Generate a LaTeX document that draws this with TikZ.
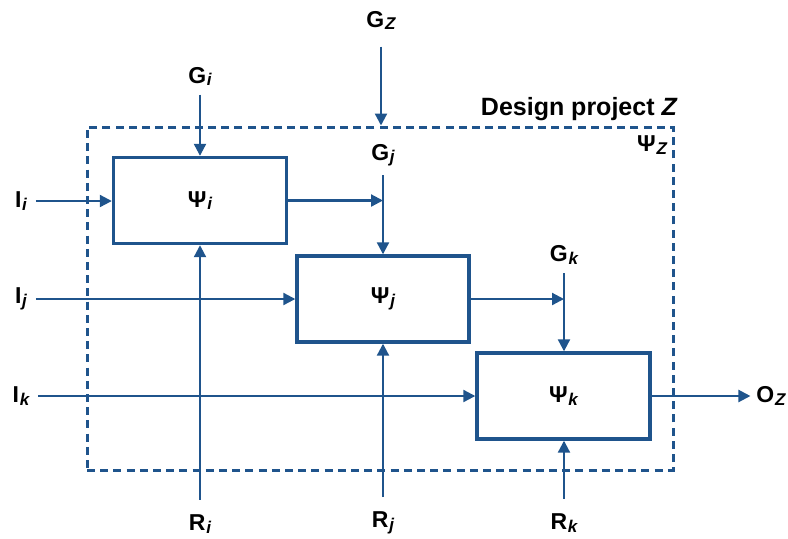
\documentclass[tikz,border=0pt]{standalone}
\usepackage{fontspec}
\setmainfont{Liberation Sans}
\usetikzlibrary{arrows.meta}
\definecolor{flowblue}{RGB}{31,84,140}
\newcommand{\lbl}[2]{#1\kern0.4pt\raisebox{-1.2pt}{\fontsize{8.5}{10}\selectfont\itshape #2}}

\begin{document}
\begin{tikzpicture}[x=0.5pt,y=-0.5pt,font=\fontsize{11.5}{13}\selectfont\bfseries]

    \tikzset{block/.style={rectangle, draw=flowblue, line width=1.7pt, minimum width=86.5pt, minimum height=43pt, inner sep=0pt}}
    \tikzset{frame/.style={rectangle, draw=flowblue, line width=1.5pt, dash pattern=on 4pt off 2.6pt, minimum width=293pt, minimum height=171.5pt}}
    \tikzset{flow/.style={draw=flowblue, line width=1.1pt, -{Triangle[length=6pt,width=6pt]}}}
    \tikzset{tag/.style={inner sep=0pt, outer sep=4.5pt}}

    \useasboundingbox (0,0) rectangle (788,538);

    % PROJECT FRAME
    \node(proj) at (380,298.5) [frame] {};
    \node(projname) at (678,109) [anchor=east, inner sep=0pt, font=\fontsize{12.5}{14}\selectfont\bfseries] {Design project \textit{Z}};
    \node(psiz) at (652,145) [tag] {\lbl{Ψ}{Z}};

    % BLOCKS
    \node(psii) at (200,200.5) [block] {\lbl{Ψ}{i}};
    \node(psij) at (383,299) [block, minimum width=86pt] {\lbl{Ψ}{j}};
    \node(psik) at (563.5,396) [block] {\lbl{Ψ}{k}};

    % GOALS
    \node(gz) at (381,20.5) [tag] {\lbl{G}{Z}};
    \node(gi) at (200,76.5) [tag] {\lbl{G}{i}};
    \node(gj) at (383,155) [tag] {\lbl{G}{j}};
    \node(gk) at (564,255) [tag] {\lbl{G}{k}};

    % INPUTS
    \node(ii) at (21,201) [tag] {\lbl{I}{i}};
    \node(ij) at (21,299) [tag] {\lbl{I}{j}};
    \node(ik) at (21,396) [tag] {\lbl{I}{k}};

    % RESOURCES
    \node(ri) at (200,524) [tag] {\lbl{R}{i}};
    \node(rj) at (383,523) [tag] {\lbl{R}{j}};
    \node(rk) at (564,523) [tag] {\lbl{R}{k}};

    % OUTPUT
    \node(oz) at (771,396) [tag, outer sep=3pt] {\lbl{O}{Z}};

    % GOAL ARROWS
    \draw[flow, shorten <=4pt] (gz) -- (gz |- proj.north);
    \draw[flow] (gi) -- (gi |- psii.north);
    \draw[flow] (gj) -- (gj |- psij.north);
    \draw[flow] (gk) -- (gk |- psik.north);

    % INPUT ARROWS
    \draw[flow] (ii) -- (ii -| psii.west);
    \draw[flow] (ij) -- (ij -| psij.west);
    \draw[flow] (ik) -- (ik -| psik.west);

    % RESOURCE ARROWS
    \draw[flow, shorten <=3pt] (ri) -- (ri |- psii.south);
    \draw[flow, shorten <=3pt] (rj) -- (rj |- psij.south);
    \draw[flow, shorten <=3pt] (rk) -- (rk |- psik.south);

    % BETWEEN BLOCKS
    \draw[flow] (psii) -- (psii -| gj);
    \draw[flow] (psij) -- (psij -| gk);
    \draw[flow] (psik) -- (oz);

\end{tikzpicture}
\end{document}
